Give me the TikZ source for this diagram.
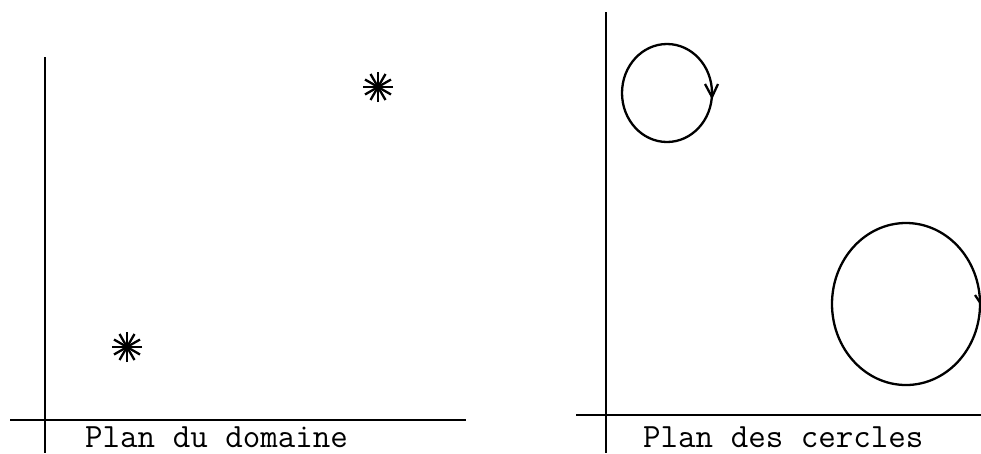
\documentclass[tikz,border=0pt]{standalone}
\usepackage{fontspec}
\begin{document}
\begin{tikzpicture}[x=1pt,y=-1pt,
  ax/.style={line width=2pt},
  circ/.style={line width=2.3pt},
  lab/.style={font=\ttfamily\fontsize{34}{34}\selectfont, anchor=base west, inner sep=0pt},
  spk/.style={line width=2.3pt}]
\useasboundingbox (0,0) rectangle (981,453);
% left plane
\coordinate (lvA) at (45,57);
\coordinate (lvB) at (45,453);
\coordinate (lhA) at (10,420);
\coordinate (lhB) at (466,420);
\draw[ax] (lvA) -- (lvB);
\draw[ax] (lhA) -- (lhB);
\node[lab] (labA) at (85,447) {Plan du domaine};
% stars
\coordinate (sa) at (378,87);
\coordinate (sb) at (127,347);
\foreach \ang in {0,30,...,150}{
  \draw[spk] ([shift={(\ang:15)}]sa) -- ([shift={(\ang+180:15)}]sa);
  \draw[spk] ([shift={(\ang:15)}]sb) -- ([shift={(\ang+180:15)}]sb);
}
% right plane
\coordinate (rvA) at (606,12);
\coordinate (rvB) at (606,453);
\coordinate (rhA) at (576,415);
\coordinate (rhB) at (981,415);
\draw[ax] (rvA) -- (rvB);
\draw[ax] (rhA) -- (rhB);
\node[lab] (labB) at (643,447) {Plan des cercles};
% circles
\coordinate (cA) at (667,93);
\draw[circ] (cA) ellipse [x radius=45, y radius=49];
\coordinate (arA) at (712,97);
\draw[circ] (705,84) -- (arA) -- (718,84);
\coordinate (cB) at (906,304);
\draw[circ] (cB) ellipse [x radius=74, y radius=81];
\coordinate (arB) at (981,304);
\draw[circ] (975,295) -- (arB);
\end{tikzpicture}
\end{document}
